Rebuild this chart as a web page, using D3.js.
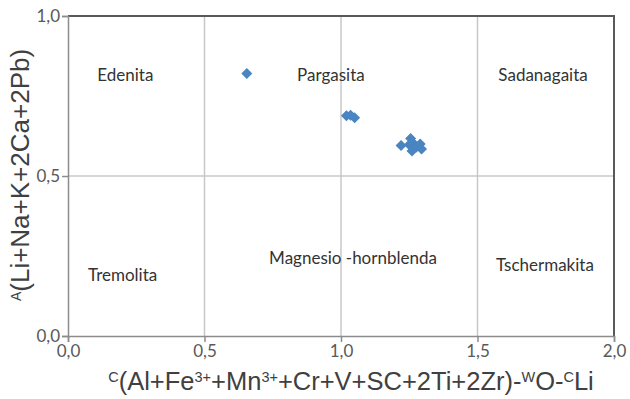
<!DOCTYPE html>
<html>
<head>
<meta charset="utf-8">
<script src="https://cdn.jsdelivr.net/npm/d3@7"></script>
<style>
  body { margin: 0; background: #fff; }
  text { font-family: Lato, "Open Sans", sans-serif; }
  .narrow { font-family: "Liberation Sans Narrow", "Arial Narrow", "Liberation Sans", sans-serif; }
</style>
</head>
<body>
<script>
// sample points (x = C(Al+Fe3+...)-WO-CLi, y = A(Li+Na+K+2Ca+2Pb))
var xVals = [0.655, 1.02, 1.035, 1.05, 1.22, 1.25, 1.255, 1.26, 1.265, 1.275, 1.29, 1.295];
var yVals = [0.82, 0.688, 0.69, 0.682, 0.595, 0.598, 0.617, 0.578, 0.602, 0.59, 0.6, 0.584];

var xTicks = [0, 0.5, 1, 1.5, 2];
var yTicks = [0, 0.5, 1];

var fieldNames = ["Edenita", "Pargasita", "Sadanagaita", "Tremolita", "Magnesio -hornblenda", "Tschermakita"];
var fieldX = [0.21, 0.963, 1.74, 0.2, 1.044, 1.747];
var fieldY = [0.81, 0.81, 0.81, 0.185, 0.237, 0.218];

var width = 630, height = 399;
var mLeft = 68, mRight = 614, mTop = 16, mBottom = 336;

var fmt = d3.formatLocale({decimal: ",", thousands: ".", grouping: [3], currency: ["", ""]}).format(".1f");

var x = d3.scaleLinear().domain([0, 2]).range([mLeft, mRight]);
var y = d3.scaleLinear().domain([0, 1]).range([mBottom, mTop]);

var svg = d3.select("body").append("svg")
    .attr("width", width)
    .attr("height", height);

// grid
svg.append("g").selectAll("line")
    .data(xTicks.filter(d => d > 0 && d < 2))
    .enter().append("line")
    .attr("x1", d => x(d)).attr("x2", d => x(d))
    .attr("y1", mTop).attr("y2", mBottom)
    .attr("stroke", "#c8c8c8").attr("stroke-width", 1.5);

svg.append("g").selectAll("line")
    .data(yTicks.filter(d => d > 0 && d < 1))
    .enter().append("line")
    .attr("x1", mLeft).attr("x2", mRight)
    .attr("y1", d => y(d)).attr("y2", d => y(d))
    .attr("stroke", "#c8c8c8").attr("stroke-width", 1.5);

// frame top + right
svg.append("path")
    .attr("d", "M" + mLeft + "," + mTop + "H" + mRight + "V" + mBottom)
    .attr("fill", "none").attr("stroke", "#595959").attr("stroke-width", 2);

// axes
var xAxis = d3.axisBottom(x).tickValues(xTicks).tickFormat(fmt).tickSize(6).tickPadding(3);
var yAxis = d3.axisLeft(y).tickValues(yTicks).tickFormat(fmt).tickSize(6).tickPadding(2);

var gx = svg.append("g").attr("transform", "translate(0," + mBottom + ")").call(xAxis);
var gy = svg.append("g").attr("transform", "translate(" + mLeft + ",0)").call(yAxis);

[gx, gy].forEach(g => {
    g.select(".domain").attr("stroke", "#8c8c8c").attr("stroke-width", 1.5);
    g.selectAll(".tick line").attr("stroke", "#8c8c8c").attr("stroke-width", 1.5);
    g.selectAll(".tick text")
        .attr("fill", "#595959")
        .style("font-family", "Lato, 'Open Sans', sans-serif")
        .style("font-size", "17px");
});

// field names
svg.append("g").selectAll("text")
    .data(fieldNames)
    .enter().append("text")
    .attr("x", (d, i) => x(fieldX[i]))
    .attr("y", (d, i) => y(fieldY[i]))
    .attr("text-anchor", "middle")
    .attr("dominant-baseline", "middle")
    .attr("fill", "#333")
    .style("font-size", "17px")
    .text(d => d);

// points
var r = 5.5;
svg.append("g").selectAll("path")
    .data(xVals)
    .enter().append("path")
    .attr("d", "M0," + (-r) + "L" + r + ",0L0," + r + "L" + (-r) + ",0Z")
    .attr("transform", (d, i) => "translate(" + x(d) + "," + y(yVals[i]) + ")")
    .attr("fill", "#4a85c2");

// axis titles
var xt = svg.append("text")
    .attr("class", "narrow")
    .attr("x", (mLeft + mRight) / 2 + 10)
    .attr("y", 390)
    .attr("text-anchor", "middle")
    .attr("fill", "#404040")
    .style("font-size", "25.5px");
var sup = (t) => xt.append("tspan").attr("baseline-shift", "super").style("font-size", "14.5px").text(t);
var txt = (t) => xt.append("tspan").text(t);
sup("C"); txt("(Al+Fe"); sup("3+"); txt("+Mn"); sup("3+"); txt("+Cr+V+SC+2Ti+2Zr)-"); sup("W"); txt("O-"); sup("C"); txt("Li");

var yt = svg.append("text")
    .attr("class", "narrow")
    .attr("transform", "translate(29," + ((mTop + mBottom) / 2 - 1) + ") rotate(-90)")
    .attr("text-anchor", "middle")
    .attr("fill", "#404040")
    .style("font-size", "26px");
yt.append("tspan").attr("baseline-shift", "super").style("font-size", "14px").text("A");
yt.append("tspan").text("(Li+Na+K+2Ca+2Pb)");
</script>
</body>
</html>
